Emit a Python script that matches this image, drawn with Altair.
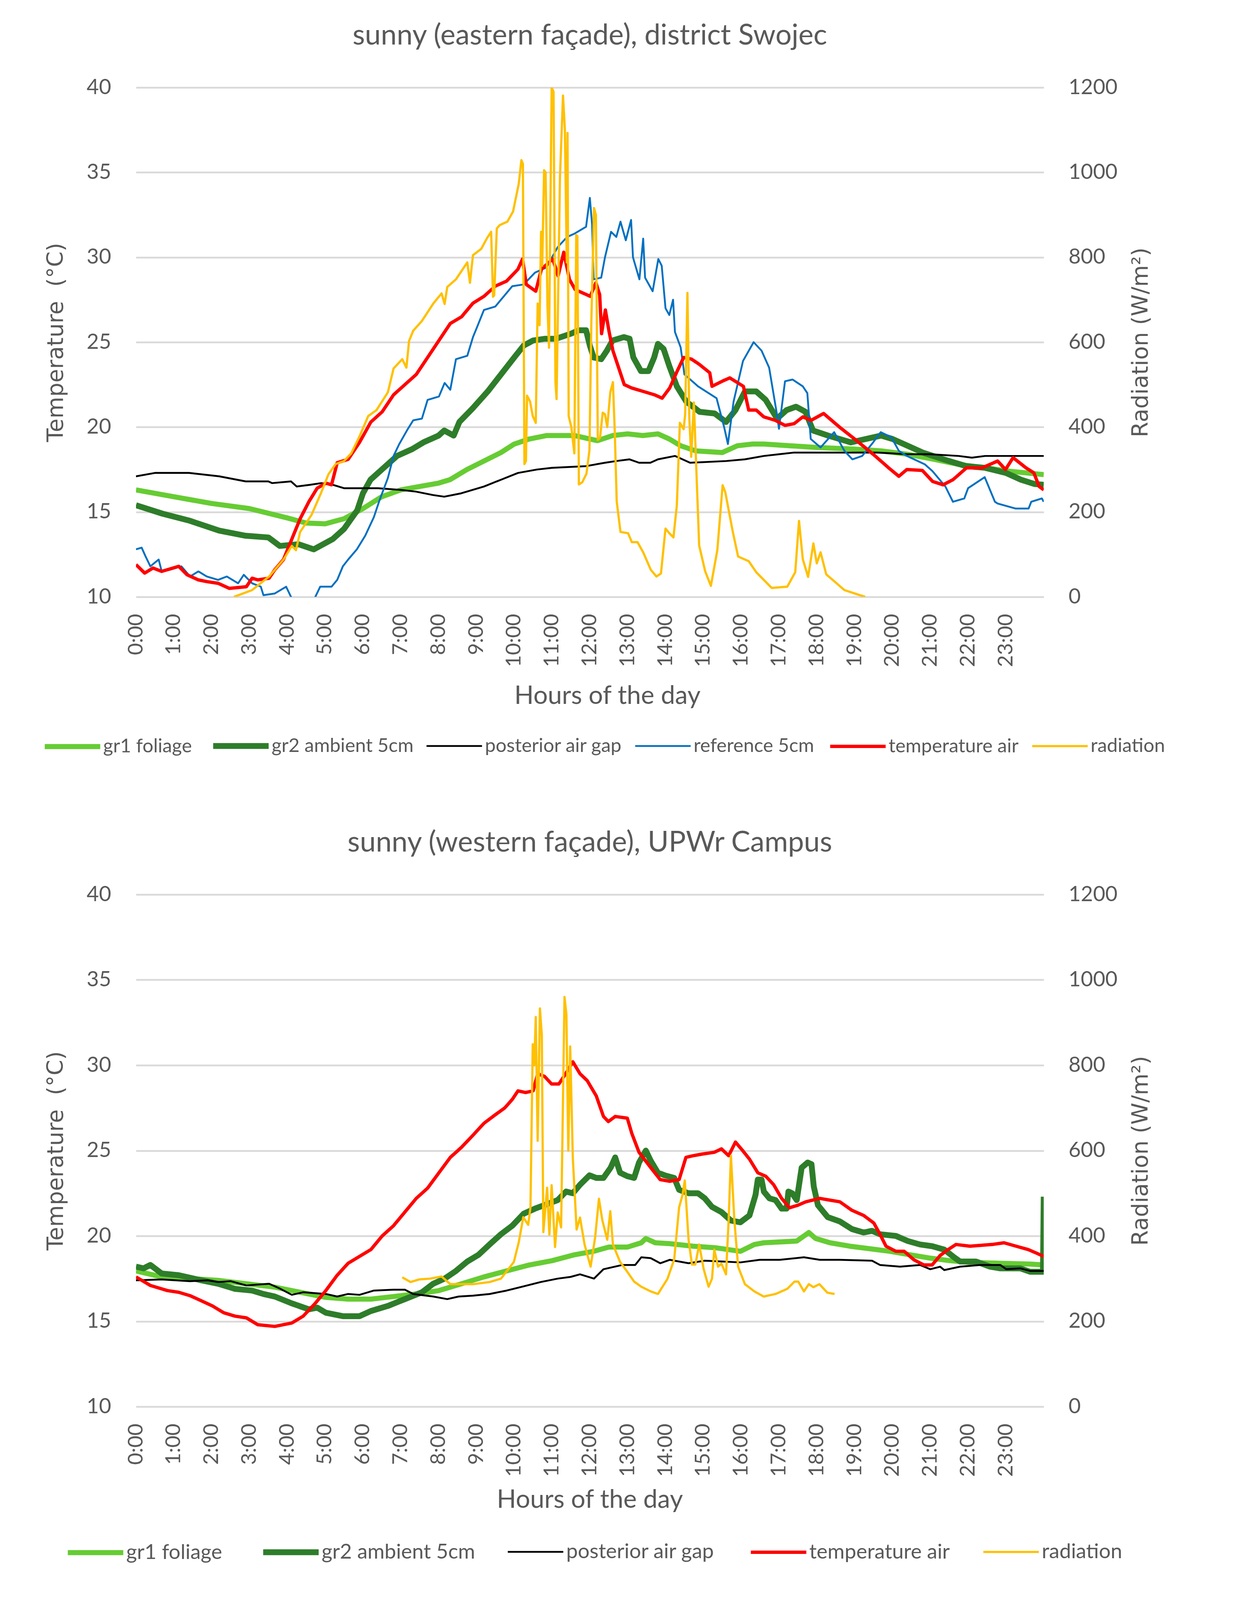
import pandas as pd
import altair as alt

########################################################################################
############# Values (hour of day, value) ##############################################
########################################################################################

# ---- sunny (eastern facade), district Swojec ----
top_gr1_h = [0, 1, 1.5, 2, 3, 4, 4.5, 5, 5.5, 6,
             6.5, 7, 7.5, 8, 8.3, 8.75, 9.2, 9.65, 10, 10.4,
             10.85, 11.3, 11.6, 12.2, 12.6, 13.0, 13.4, 13.8, 14.1, 14.4,
             14.8, 15.5, 15.9, 16.3, 16.6, 17.3, 18.0, 19.0, 19.7, 20.4,
             21.1, 21.75, 22.45, 23.1, 24]
top_gr1_v = [16.3, 15.9, 15.7, 15.5, 15.2, 14.65, 14.35, 14.3, 14.6, 15.2,
             15.9, 16.3, 16.5, 16.7, 16.9, 17.5, 18.0, 18.5, 19.0, 19.3,
             19.5, 19.5, 19.5, 19.2, 19.5, 19.6, 19.5, 19.6, 19.3, 18.9,
             18.6, 18.5, 18.9, 19.0, 19.0, 18.9, 18.8, 18.7, 18.6, 18.4,
             18.1, 17.8, 17.6, 17.4, 17.2]

top_gr2_h = [0, 0.7, 1.4, 2.2, 2.9, 3.5, 3.8, 4.3, 4.7, 5.2,
             5.5, 5.85, 6.0, 6.2, 6.5, 6.9, 7.3, 7.6, 8.0, 8.15,
             8.4, 8.55, 8.9, 9.3, 9.65, 10.0, 10.25, 10.5, 10.8, 11.1,
             11.5, 11.7, 11.9, 12.0, 12.1, 12.3, 12.45, 12.6, 12.9, 13.05,
             13.15, 13.35, 13.55, 13.7, 13.8, 13.95, 14.1, 14.3, 14.55, 14.9,
             15.3, 15.6, 15.85, 16.1, 16.4, 16.65, 16.95, 17.2, 17.45, 17.7,
             17.9, 18.3, 18.9, 19.3, 19.7, 20.0, 20.4, 20.8, 21.35, 21.95,
             22.45, 23.0, 23.4, 23.75, 24]
top_gr2_v = [15.4, 14.9, 14.5, 13.9, 13.6, 13.5, 13.0, 13.1, 12.8, 13.4,
             14.0, 15.1, 16.1, 16.9, 17.5, 18.3, 18.7, 19.1, 19.5, 19.8,
             19.5, 20.3, 21.1, 22.1, 23.1, 24.1, 24.8, 25.1, 25.2, 25.2,
             25.5, 25.7, 25.7, 24.8, 24.1, 24.0, 24.5, 25.1, 25.3, 25.2,
             24.1, 23.3, 23.3, 24.1, 24.9, 24.6, 23.6, 22.4, 21.5, 20.9,
             20.8, 20.3, 21.0, 22.1, 22.1, 21.6, 20.5, 21.0, 21.2, 20.9,
             19.8, 19.5, 19.1, 19.3, 19.5, 19.3, 18.9, 18.5, 18.1, 17.7,
             17.6, 17.3, 16.9, 16.65, 16.6]

top_gap_h = [0, 0.5, 1.4, 2.2, 2.9, 3.5, 3.6, 4.1, 4.25, 4.6,
             4.9, 5.2, 5.5, 6.4, 7.0, 7.4, 7.85, 8.15, 8.6, 9.2,
             9.65, 10.1, 10.6, 11.0, 11.9, 12.4, 12.7, 13.05, 13.3, 13.6,
             13.8, 14.25, 14.65, 15.6, 16.1, 16.6, 17.0, 17.4, 18.7, 19.6,
             20.4, 21.0, 21.75, 22.1, 22.45, 24]
top_gap_v = [17.1, 17.3, 17.3, 17.1, 16.8, 16.8, 16.7, 16.8, 16.5, 16.6,
             16.7, 16.6, 16.4, 16.4, 16.3, 16.2, 16.0, 15.9, 16.1, 16.5,
             16.9, 17.3, 17.5, 17.6, 17.7, 17.9, 18.0, 18.1, 17.9, 17.9,
             18.1, 18.3, 17.9, 18.0, 18.1, 18.3, 18.4, 18.5, 18.5, 18.5,
             18.4, 18.4, 18.3, 18.2, 18.3, 18.3]

top_ref_h = [0, 0.15, 0.25, 0.38, 0.6, 0.68, 0.9, 1.2, 1.43, 1.65,
             1.87, 2.17, 2.4, 2.7, 2.85, 3.07, 3.3, 3.37, 3.67, 3.97,
             4.12, 4.42, 4.72, 4.87, 5.17, 5.32, 5.47, 5.61, 5.84, 6.06,
             6.29, 6.44, 6.66, 6.81, 6.96, 7.19, 7.33, 7.56, 7.71, 8.01,
             8.16, 8.31, 8.46, 8.76, 8.91, 9.02, 9.2, 9.5, 9.65, 9.95,
             10.25, 10.55, 10.85, 11.15, 11.4, 11.6, 11.9, 12.0, 12.06, 12.1,
             12.3, 12.4, 12.56, 12.7, 12.81, 12.95, 13.09, 13.14, 13.31, 13.41,
             13.46, 13.66, 13.81, 13.9, 14.0, 14.1, 14.2, 14.25, 14.4, 14.5,
             14.86, 15.35, 15.55, 15.65, 15.8, 16.05, 16.33, 16.54, 16.74, 16.95,
             17.0, 17.16, 17.36, 17.63, 17.75, 17.84, 18.1, 18.46, 18.73, 18.94,
             19.2, 19.49, 19.69, 19.97, 20.17, 20.38, 20.86, 21.06, 21.4, 21.6,
             21.9, 22.0, 22.44, 22.71, 22.78, 23.26, 23.6, 23.67, 23.95, 24]
top_ref_v = [12.8, 12.9, 12.4, 11.8, 12.2, 11.5, 11.6, 11.8, 11.2, 11.5,
             11.2, 11.0, 11.2, 10.8, 11.3, 10.8, 10.6, 10.1, 10.2, 10.6,
             9.9, 9.8, 9.9, 10.6, 10.6, 11.0, 11.8, 12.2, 12.8, 13.6,
             14.7, 15.7, 17.0, 18.3, 19.0, 19.9, 20.4, 20.5, 21.6, 21.8,
             22.6, 22.2, 24.0, 24.2, 25.3, 25.9, 26.9, 27.1, 27.5, 28.3,
             28.4, 29.1, 29.4, 30.6, 31.2, 31.4, 31.8, 33.5, 31.9, 28.7,
             28.8, 30.0, 31.5, 31.2, 32.1, 31.0, 32.2, 30.0, 28.7, 31.1,
             28.8, 28.0, 29.9, 29.5, 27.0, 26.6, 27.5, 25.6, 24.7, 23.1,
             22.4, 21.7, 20.0, 19.0, 21.5, 23.9, 25.0, 24.5, 23.5, 20.7,
             19.9, 22.7, 22.8, 22.4, 22.0, 19.3, 18.8, 19.7, 18.6, 18.1,
             18.3, 19.1, 19.7, 19.4, 18.6, 18.3, 17.8, 17.4, 16.5, 15.6,
             15.8, 16.4, 17.05, 15.6, 15.5, 15.2, 15.2, 15.6, 15.8, 15.6]

top_air_h = [0, 0.23, 0.45, 0.68, 1.13, 1.35, 1.65, 1.87, 2.17, 2.47,
             2.92, 3.07, 3.22, 3.52, 3.67, 3.9, 4.12, 4.34, 4.57, 4.79,
             5.02, 5.17, 5.32, 5.61, 5.91, 6.21, 6.51, 6.81, 7.11, 7.41,
             7.71, 8.01, 8.31, 8.61, 8.91, 9.2, 9.5, 9.8, 10.1, 10.22,
             10.32, 10.57, 10.72, 11.02, 11.16, 11.31, 11.46, 11.61, 11.81, 12.01,
             12.16, 12.26, 12.31, 12.41, 12.51, 12.61, 12.76, 12.91, 13.11, 13.41,
             13.71, 13.91, 14.11, 14.31, 14.48, 14.69, 14.89, 15.17, 15.23, 15.5,
             15.7, 16.06, 16.2, 16.4, 16.6, 16.9, 17.16, 17.4, 17.63, 17.85,
             18.18, 18.6, 19.0, 19.49, 19.9, 20.17, 20.38, 20.79, 21.06, 21.34,
             21.6, 21.96, 22.37, 22.78, 22.99, 23.19, 23.53, 23.74, 23.88, 24]
top_air_v = [11.9, 11.4, 11.7, 11.5, 11.8, 11.3, 11.0, 10.9, 10.8, 10.5,
             10.6, 11.1, 11.0, 11.1, 11.6, 12.2, 13.4, 14.6, 15.6, 16.4,
             16.7, 16.6, 17.9, 18.1, 19.1, 20.3, 20.9, 21.9, 22.5, 23.1,
             24.1, 25.1, 26.1, 26.5, 27.3, 27.7, 28.3, 28.6, 29.3, 29.9,
             28.4, 28.0, 29.3, 29.9, 28.9, 30.3, 28.7, 28.1, 27.9, 27.7,
             28.5, 27.8, 25.5, 26.9, 25.6, 24.5, 23.5, 22.5, 22.3, 22.1,
             21.9, 21.7, 22.3, 23.3, 24.1, 24.0, 23.7, 23.2, 22.4, 22.7,
             22.9, 22.4, 21.0, 21.0, 20.6, 20.4, 20.1, 20.2, 20.6, 20.4,
             20.8, 20.0, 19.3, 18.4, 17.6, 17.1, 17.5, 17.45, 16.8, 16.6,
             16.9, 17.6, 17.6, 18.0, 17.5, 18.2, 17.6, 17.3, 16.5, 16.3]

top_rad_h = [2.59, 3.07, 3.52, 3.9, 4.12, 4.23, 4.34, 4.64, 4.87, 5.09,
             5.28, 5.5, 5.69, 5.91, 6.14, 6.36, 6.66, 6.81, 7.04, 7.15,
             7.22, 7.33, 7.56, 7.86, 8.08, 8.16, 8.23, 8.46, 8.76, 8.83,
             8.91, 9.13, 9.28, 9.39, 9.44, 9.47, 9.54, 9.62, 9.82, 9.97,
             10.12, 10.19, 10.23, 10.27, 10.31, 10.34, 10.42, 10.49, 10.57, 10.62,
             10.67, 10.71, 10.74, 10.79, 10.83, 10.88, 10.92, 10.99, 11.04, 11.09,
             11.12, 11.16, 11.21, 11.29, 11.34, 11.39, 11.41, 11.44, 11.51, 11.59,
             11.64, 11.67, 11.71, 11.8, 11.91, 11.99, 12.04, 12.11, 12.16, 12.21,
             12.27, 12.34, 12.4, 12.46, 12.54, 12.61, 12.66, 12.71, 12.81, 13.01,
             13.11, 13.26, 13.41, 13.61, 13.76, 13.88, 14.0, 14.1, 14.21, 14.3,
             14.38, 14.48, 14.52, 14.58, 14.63, 14.68, 14.75, 14.89, 15.05, 15.2,
             15.37, 15.51, 15.58, 15.78, 15.92, 16.2, 16.4, 16.81, 17.22, 17.43,
             17.53, 17.63, 17.77, 17.91, 18.0, 18.1, 18.25, 18.46, 18.73, 19.0,
             19.28]
top_rad_v = [0, 16, 48, 88, 120, 110, 153, 193, 240, 289,
             313, 320, 338, 378, 426, 440, 482, 538, 560, 540,
             603, 627, 650, 691, 715, 690, 730, 748, 788, 740,
             805, 820, 845, 860, 707, 710, 868, 876, 884, 908,
             973, 1029, 1020, 313, 320, 474, 460, 426, 410, 691,
             640, 860, 780, 1005, 1000, 683, 587, 1200, 1190, 506,
             466, 700, 989, 1181, 1100, 788, 1093, 426, 400, 338,
             852, 850, 265, 270, 290, 346, 651, 916, 900, 370,
             375, 434, 430, 400, 482, 506, 386, 225, 153, 150,
             129, 129, 105, 64, 48, 55, 161, 150, 140, 216,
             410, 395, 430, 716, 420, 330, 458, 121, 60, 26,
             110, 263, 247, 153, 95, 84, 58, 21, 24, 58,
             179, 89, 47, 126, 79, 105, 53, 37, 16, 8,
             0]

# ---- sunny (western facade), UPWr Campus ----
bot_gr1_h = [0, 0.68, 1.43, 2.17, 2.92, 3.67, 4.12, 4.57, 5.02, 5.61,
             6.21, 6.81, 7.41, 8.01, 8.61, 9.2, 9.8, 10.4, 11.0, 11.6,
             12.1, 12.5, 13.0, 13.36, 13.48, 13.73, 14.11, 14.73, 15.35, 15.98,
             16.35, 16.6, 17.47, 17.79, 17.97, 18.35, 18.87, 19.4, 19.93, 20.46,
             21.0, 21.52, 22.05, 22.85, 23.64, 24]
bot_gr1_v = [17.95, 17.6, 17.5, 17.4, 17.2, 17.0, 16.8, 16.6, 16.4, 16.3,
             16.3, 16.45, 16.6, 16.8, 17.2, 17.6, 17.95, 18.3, 18.55, 18.9,
             19.1, 19.35, 19.35, 19.6, 19.85, 19.6, 19.55, 19.4, 19.3, 19.1,
             19.5, 19.6, 19.7, 20.2, 19.85, 19.6, 19.4, 19.25, 19.1, 18.9,
             18.7, 18.55, 18.45, 18.4, 18.35, 18.3]

bot_gr2_h = [0, 0.2, 0.38, 0.68, 1.13, 1.73, 2.17, 2.62, 3.07, 3.37,
             3.67, 4.12, 4.57, 4.79, 5.02, 5.47, 5.91, 6.21, 6.66, 7.11,
             7.56, 7.86, 8.16, 8.46, 8.76, 9.06, 9.35, 9.65, 9.95, 10.25,
             10.55, 10.85, 11.15, 11.37, 11.55, 11.74, 11.99, 12.17, 12.36, 12.55,
             12.67, 12.8, 12.99, 13.17, 13.3, 13.48, 13.61, 13.8, 13.98, 14.23,
             14.36, 14.61, 14.86, 15.04, 15.23, 15.48, 15.73, 15.98, 16.22, 16.38,
             16.44, 16.54, 16.6, 16.75, 16.91, 17.07, 17.2, 17.25, 17.35, 17.47,
             17.6, 17.76, 17.86, 17.92, 18.03, 18.29, 18.61, 18.93, 19.24, 19.46,
             19.67, 20.09, 20.41, 20.73, 21.05, 21.37, 21.63, 21.79, 22.21, 22.58,
             22.85, 23.38, 23.64, 23.96, 23.98, 24.0]
bot_gr2_v = [18.2, 18.1, 18.3, 17.8, 17.7, 17.4, 17.2, 16.9, 16.8, 16.6,
             16.45, 16.05, 15.7, 15.8, 15.5, 15.3, 15.3, 15.6, 15.9, 16.3,
             16.7, 17.2, 17.5, 17.95, 18.5, 18.9, 19.5, 20.1, 20.6, 21.3,
             21.6, 21.85, 22.1, 22.6, 22.5, 23.0, 23.55, 23.4, 23.4, 24.0,
             24.6, 23.7, 23.5, 23.4, 24.3, 25.0, 24.4, 23.7, 23.55, 23.4,
             22.7, 22.5, 22.5, 22.2, 21.7, 21.4, 20.9, 20.8, 21.2, 22.4,
             23.3, 23.3, 22.6, 22.2, 22.1, 21.6, 21.6, 22.6, 22.5, 22.1,
             24.0, 24.3, 24.2, 22.9, 21.8, 21.1, 20.85, 20.4, 20.2, 20.3,
             20.1, 20.0, 19.7, 19.5, 19.4, 19.2, 18.75, 18.5, 18.5, 18.2,
             18.1, 18.1, 17.9, 17.9, 17.9, 22.3]

bot_gap_h = [0, 0.68, 1.43, 1.9, 2.17, 2.5, 2.92, 3.52, 3.82, 4.12,
             4.42, 4.72, 5.02, 5.32, 5.61, 5.91, 6.29, 6.81, 7.11, 7.33,
             7.86, 8.23, 8.53, 8.91, 9.35, 9.8, 10.25, 10.7, 11.15, 11.49,
             11.74, 12.11, 12.36, 12.86, 13.2, 13.36, 13.61, 13.86, 14.11, 14.61,
             15.04, 15.54, 15.98, 16.49, 17.02, 17.66, 18.08, 18.61, 19.46, 19.67,
             20.2, 20.73, 21.0, 21.26, 21.37, 21.79, 22.32, 22.85, 23.01, 23.38,
             23.64, 24]
bot_gap_v = [17.4, 17.45, 17.35, 17.4, 17.3, 17.35, 17.1, 17.2, 16.9, 16.55,
             16.7, 16.65, 16.6, 16.45, 16.6, 16.55, 16.8, 16.85, 16.85, 16.6,
             16.45, 16.3, 16.45, 16.5, 16.6, 16.8, 17.05, 17.3, 17.5, 17.6,
             17.75, 17.5, 18.05, 18.3, 18.3, 18.75, 18.7, 18.4, 18.6, 18.4,
             18.55, 18.5, 18.45, 18.6, 18.6, 18.75, 18.6, 18.6, 18.55, 18.3,
             18.2, 18.3, 18.05, 18.2, 18.0, 18.2, 18.3, 18.3, 18.05, 18.1,
             17.95, 17.95]

bot_air_h = [0, 0.38, 0.83, 1.13, 1.43, 1.73, 2.02, 2.32, 2.62, 2.92,
             3.22, 3.67, 4.12, 4.42, 4.72, 5.02, 5.32, 5.61, 5.91, 6.21,
             6.51, 6.81, 7.11, 7.41, 7.71, 8.01, 8.31, 8.61, 8.91, 9.2,
             9.5, 9.75, 9.95, 10.1, 10.3, 10.5, 10.62, 10.8, 10.99, 11.18,
             11.36, 11.55, 11.74, 11.93, 12.17, 12.36, 12.49, 12.67, 12.99, 13.11,
             13.3, 13.61, 13.86, 14.11, 14.36, 14.54, 14.73, 14.98, 15.29, 15.48,
             15.67, 15.85, 16.04, 16.22, 16.44, 16.65, 16.86, 17.07, 17.28, 17.5,
             17.71, 18.08, 18.34, 18.61, 18.93, 19.24, 19.51, 19.67, 19.83, 20.09,
             20.31, 20.57, 20.83, 21.05, 21.26, 21.47, 21.68, 22.05, 22.64, 22.95,
             23.27, 23.59, 23.8, 24]
bot_air_v = [17.6, 17.1, 16.8, 16.7, 16.5, 16.2, 15.9, 15.5, 15.3, 15.2,
             14.8, 14.7, 14.9, 15.3, 16.0, 16.8, 17.7, 18.4, 18.8, 19.2,
             20.0, 20.6, 21.4, 22.2, 22.8, 23.7, 24.6, 25.2, 25.9, 26.6,
             27.1, 27.5, 28.0, 28.5, 28.4, 28.5, 29.5, 29.35, 28.9, 28.9,
             29.5, 30.2, 29.5, 29.1, 28.2, 27.0, 26.7, 27.0, 26.9, 26.0,
             24.9, 24.0, 23.3, 23.2, 23.3, 24.6, 24.7, 24.8, 24.9, 25.1,
             24.7, 25.5, 25.0, 24.5, 23.7, 23.5, 23.0, 22.2, 21.65, 21.8,
             22.0, 22.2, 22.1, 22.0, 21.5, 21.2, 20.75, 20.1, 19.4, 19.1,
             19.1, 18.6, 18.3, 18.3, 18.85, 19.2, 19.5, 19.4, 19.5, 19.6,
             19.4, 19.2, 19.0, 18.8]

bot_rad_h = [7.04, 7.26, 7.48, 7.78, 8.08, 8.31, 8.91, 9.35, 9.65, 9.99,
             10.12, 10.24, 10.37, 10.43, 10.49, 10.53, 10.57, 10.62, 10.68, 10.73,
             10.77, 10.87, 10.93, 10.99, 11.08, 11.15, 11.24, 11.33, 11.38, 11.43,
             11.48, 11.55, 11.65, 11.74, 11.86, 12.02, 12.14, 12.24, 12.33, 12.46,
             12.54, 12.61, 12.8, 12.99, 13.17, 13.36, 13.61, 13.8, 14.05, 14.23,
             14.36, 14.45, 14.51, 14.61, 14.7, 14.79, 14.89, 15.01, 15.14, 15.23,
             15.29, 15.39, 15.48, 15.6, 15.67, 15.73, 15.82, 15.92, 16.1, 16.35,
             16.6, 16.91, 17.22, 17.41, 17.51, 17.66, 17.79, 17.91, 18.07, 18.28,
             18.47]
bot_rad_v = [303, 292, 298, 300, 305, 287, 287, 292, 300, 339,
             385, 444, 426, 467, 849, 800, 913, 623, 933, 870,
             409, 513, 403, 519, 374, 455, 420, 960, 919, 600,
             844, 582, 415, 443, 380, 328, 397, 487, 437, 391,
             458, 380, 339, 316, 293, 281, 270, 264, 299, 345,
             467, 496, 530, 391, 333, 333, 380, 322, 281, 300,
             368, 328, 335, 310, 438, 588, 438, 328, 287, 270,
             258, 264, 276, 293, 293, 270, 287, 280, 287, 267,
             264]

# series names, colours and line widths (Excel look)
series_names = ['gr1 foliage', 'gr2 ambient 5cm', 'posterior air gap',
                'reference 5cm', 'temperature air', 'radiation']
series_colors = ['#66CC33', '#2E7D2A', '#000000', '#0070C0', '#FF0000', '#FFC000']
series_widths = [13, 15, 4.7, 4.7, 8.5, 5.7]

hour_ticks = list(range(24))
temp_ticks = [10, 15, 20, 25, 30, 35, 40]
rad_ticks = [0, 200, 400, 600, 800, 1000, 1200]

########################################################################################
############# Puts the data in long format #############################################
########################################################################################

def make_df(parts):
    frames = [pd.DataFrame({'hour': h, 'value': v, 'series': name}) for name, h, v in parts]
    return pd.concat(frames, ignore_index=True)

top_temp = make_df([('gr1 foliage', top_gr1_h, top_gr1_v),
                    ('gr2 ambient 5cm', top_gr2_h, top_gr2_v),
                    ('posterior air gap', top_gap_h, top_gap_v),
                    ('reference 5cm', top_ref_h, top_ref_v),
                    ('temperature air', top_air_h, top_air_v)])
top_rad = make_df([('radiation', top_rad_h, top_rad_v)])

bot_temp = make_df([('gr1 foliage', bot_gr1_h, bot_gr1_v),
                    ('gr2 ambient 5cm', bot_gr2_h, bot_gr2_v),
                    ('posterior air gap', bot_gap_h, bot_gap_v),
                    ('temperature air', bot_air_h, bot_air_v)])
bot_rad = make_df([('radiation', bot_rad_h, bot_rad_v)])

########################################################################################
############# Creates the Altair graph #################################################
########################################################################################

GREY = '#595959'

def panel(temp_df, rad_df, names, title, plot_h, legend_x, legend_y, legend_size, legend_pad,
          x_title_x, x_title_pad):
    colors = [series_colors[series_names.index(n)] for n in names]
    widths = [series_widths[series_names.index(n)] for n in names]

    legend = alt.Legend(title=None, orient='none', legendX=legend_x, legendY=legend_y,
                        direction='horizontal', columns=len(names), symbolType='stroke',
                        symbolSize=20164, labelFont='Lato', labelFontSize=legend_size,
                        labelColor=GREY, labelOffset=0, columnPadding=legend_pad, labelLimit=2000)
    color = alt.Color('series:N', scale=alt.Scale(domain=names, range=colors), legend=legend)
    stroke = alt.StrokeWidth('series:N', scale=alt.Scale(type='ordinal', domain=names, range=widths),
                             legend=legend)

    x_axis = alt.Axis(values=hour_ticks, labelExpr="datum.value + ':00'", labelAngle=-90,
                      title='Hours of the day', grid=False, domain=False, ticks=False,
                      labelPadding=43, titlePadding=x_title_pad, labelFlush=False, labelOverlap=False,
                      titleX=x_title_x)
    x = alt.X('hour:Q', scale=alt.Scale(domain=[0, 24], nice=False, zero=False), axis=x_axis)

    temp = alt.Chart(temp_df).mark_line(clip=True, strokeJoin='round').encode(
        x=x,
        y=alt.Y('value:Q', scale=alt.Scale(domain=[10, 40], nice=False, zero=False),
                axis=alt.Axis(values=temp_ticks, title='Temperature \u00a0(°C)', grid=True,
                              gridColor='#D9D9D9', gridWidth=4.7, domain=False, ticks=False,
                              labelPadding=64, titlePadding=49, labelFlush=False)),
        color=color,
        strokeWidth=stroke
    )

    rad = alt.Chart(rad_df).mark_line(clip=True, strokeJoin='round').encode(
        x=x,
        y=alt.Y('value:Q', scale=alt.Scale(domain=[0, 1200], nice=False),
                axis=alt.Axis(orient='right', values=rad_ticks, format='d', title='Radiation (W/m²)',
                              grid=False, domain=False, ticks=False, labelPadding=63,
                              titlePadding=32, titleAngle=270, titleBaseline='top',
                              labelFlush=False)),
        color=color,
        strokeWidth=stroke
    )

    return alt.layer(temp, rad).resolve_scale(y='independent').properties(
        width=2323, height=plot_h,
        title=alt.TitleParams(title, font='Lato', fontSize=73, color=GREY, fontWeight='normal',
                              anchor='middle', frame='group', offset=68)
    )

top = panel(top_temp, top_rad, series_names, 'sunny (eastern façade), district Swojec',
            1304, -241, 1607, 49, 23, 1206, 43)
bottom = panel(bot_temp, bot_rad, [n for n in series_names if n != 'reference 5cm'],
               'sunny (western façade), UPWr Campus', 1311, -182, 1605, 53, 74, 1161, 28)

chart = alt.vconcat(top, bottom, spacing=182).resolve_scale(
    color='independent', strokeWidth='independent'
).properties(
    padding={'left': 99, 'top': 48, 'right': 10, 'bottom': 10}
).configure_view(
    stroke=None
).configure_axis(
    labelFont='Lato', labelColor=GREY, labelFontSize=54,
    titleFont='Lato', titleColor=GREY, titleFontWeight='normal', titleFontSize=65
).configure_axisX(
    labelFontSize=53
).configure_axisY(
    titleFont='DejaVu Sans', titleFontSize=57
)

chart.save('out.html', embed_options={'renderer': 'svg', 'actions': False})
